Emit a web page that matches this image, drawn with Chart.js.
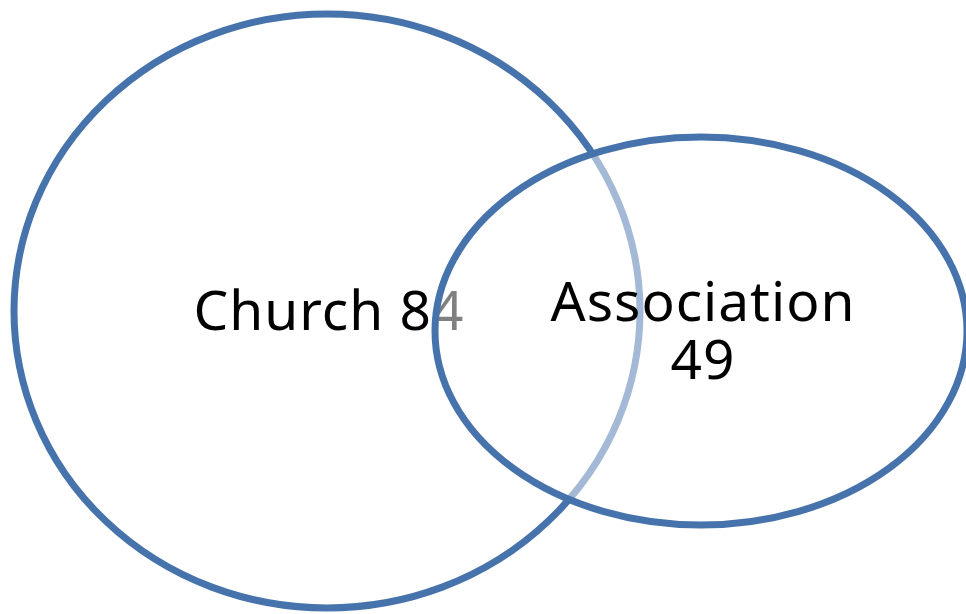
<!DOCTYPE html>
<html>
<head>
  <meta charset="utf-8">
  <title>Church / Association</title>
  <script src="https://cdn.jsdelivr.net/npm/chart.js"></script>
  <style>
    html, body { margin: 0; padding: 0; background: #fff; }
    canvas { display: block; }
  </style>
</head>
<body>
  <canvas id="venn" width="966" height="614"></canvas>
  <script>
    // sets of the diagram
    const setNames = ['Church', 'Association'];
    const setSizes = [84, 49];
    // ellipse centres and radii, in axis units (0..966 across, 0..614 down)
    const centerX = [327, 701];
    const centerY = [311, 331];
    const radiusX = [313, 266];
    const radiusY = [297, 194];
    // how each label is broken into lines
    const labelLines = [
      [setNames[0] + ' ' + setSizes[0]],
      [setNames[1], String(setSizes[1])]
    ];

    const lineColor = '#4673ab';

    // draws each set as an ellipse, later sets wash over earlier ones
    const vennPlugin = {
      id: 'venn',
      afterDatasetsDraw(chart) {
        const ctx = chart.ctx;
        const xs = chart.scales.x, ys = chart.scales.y;
        ctx.save();
        ctx.font = '55px "Noto Sans"';
        ctx.letterSpacing = '1px';
        ctx.textAlign = 'center';
        ctx.textBaseline = 'middle';
        for (let i = 0; i < setNames.length; i++) {
          const px = xs.getPixelForValue(centerX[i]);
          const py = ys.getPixelForValue(centerY[i]);
          const rx = Math.abs(xs.getPixelForValue(centerX[i] + radiusX[i]) - px);
          const ry = Math.abs(ys.getPixelForValue(centerY[i] + radiusY[i]) - py);

          ctx.beginPath();
          ctx.ellipse(px, py, rx, ry, 0, 0, Math.PI * 2);
          if (i > 0) {
            ctx.fillStyle = 'rgba(255,255,255,0.5)';
            ctx.fill();
          }
          ctx.lineWidth = 7;
          ctx.strokeStyle = lineColor;
          ctx.stroke();

          // label
          ctx.fillStyle = '#000';
          const lines = labelLines[i];
          const lh = 58;
          const top = py + 3 - (lines.length - 1) * lh / 2;
          lines.forEach((t, k) => {
            ctx.fillText(t, px + 2, top + k * lh);
          });
        }
        ctx.restore();
      }
    };

    new Chart(document.getElementById('venn'), {
      type: 'scatter',
      data: {
        datasets: [{
          label: 'sets',
          data: centerX.map((x, i) => ({ x: x, y: centerY[i] })),
          pointRadius: 0,
          pointHoverRadius: 0
        }]
      },
      options: {
        responsive: false,
        animation: false,
        events: [],
        layout: { padding: 0 },
        plugins: { legend: { display: false }, tooltip: { enabled: false } },
        scales: {
          x: { type: 'linear', min: 0, max: 966, display: false },
          y: { type: 'linear', min: 0, max: 614, reverse: true, display: false }
        }
      },
      plugins: [vennPlugin]
    });
  </script>
</body>
</html>
